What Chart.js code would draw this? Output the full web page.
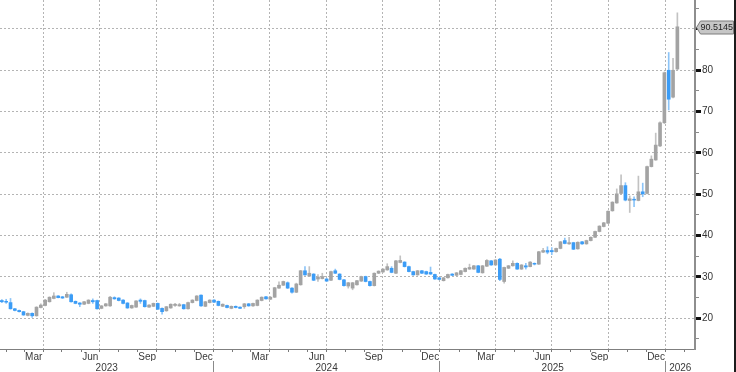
<!DOCTYPE html>
<html><head><meta charset="utf-8">
<style>html,body{margin:0;padding:0;background:#fff;overflow:hidden}#wrap{position:relative;width:736px;height:372px}</style>
<script src="https://cdn.jsdelivr.net/npm/chart.js@4.4.1/dist/chart.umd.min.js"></script>
</head><body><div id="wrap"><canvas id="c" width="736" height="372"></canvas></div>
<script>
// Weekly candles, first week centred on this date
const firstWeek = '2023-01-24';
const open = [24.3,24.1,23.8,22.3,21.9,21.6,20.7,21.2,20.6,22.6,23.1,24.0,24.8,25.4,25.2,25.1,25.7,24.1,23.7,23.4,
23.6,24.3,24.3,22.4,23.0,23.0,25.0,24.9,24.4,23.7,22.5,22.7,24.4,24.3,22.7,22.9,23.6,22.4,21.8,22.5,
23.1,23.0,23.3,22.3,23.8,24.3,25.6,22.9,23.8,24.4,24.1,22.9,23.1,22.4,22.9,22.7,22.8,23.5,23.0,23.1,
24.3,25.2,24.6,25.1,27.3,28.0,28.6,27.3,26.3,28.1,31.5,30.2,30.7,29.5,29.6,29.5,29.2,31.5,30.7,29.3,
27.8,27.3,28.1,29.0,30.1,28.9,27.9,30.9,31.2,31.7,32.1,30.9,33.5,33.6,32.5,31.3,30.5,31.5,31.3,31.1,
30.6,29.8,29.1,29.8,30.7,30.4,30.6,31.3,31.9,31.9,32.7,31.0,32.6,33.9,32.9,34.3,28.9,32.1,32.7,33.3,
31.9,32.7,32.5,33.3,33.1,36.0,36.4,36.4,36.1,36.9,38.8,38.0,38.3,36.8,38.5,38.0,38.8,39.6,41.0,42.2,
43.0,46.0,47.9,50.2,52.1,48.5,48.8,48.5,50.6,50.2,56.7,58.3,61.7,67.3,80.0,73.5,80.3];
const high = [24.5,24.6,24.8,22.4,22.0,21.7,21.3,21.3,22.8,23.5,24.6,25.2,26.2,25.5,25.3,26.3,25.9,24.2,23.8,24.1,
24.5,24.7,24.4,23.1,23.6,25.3,25.2,25.0,24.5,23.8,23.2,24.3,24.7,24.4,23.3,23.7,23.7,22.5,22.9,23.5,
23.6,23.6,23.4,23.9,24.5,25.5,25.7,24.1,24.5,24.5,24.2,23.5,23.2,23.0,23.0,22.8,23.6,23.6,23.7,24.5,
25.2,25.3,25.3,27.5,28.8,29.0,28.8,27.4,28.5,31.6,32.5,32.5,30.8,30.6,30.9,29.7,31.4,31.9,30.8,29.4,
28.7,28.7,29.2,30.2,30.2,29.0,31.0,31.5,32.0,33.2,32.5,34.0,35.1,33.7,32.6,31.4,31.6,31.6,31.4,32.4,
30.7,29.9,29.9,30.7,30.8,31.1,31.6,32.2,33.1,32.8,32.8,32.8,34.2,34.0,34.2,34.5,32.4,32.8,33.9,33.4,
33.0,33.3,33.7,33.4,36.2,36.9,37.3,37.1,37.0,38.6,39.4,39.6,38.4,38.5,38.6,38.9,39.7,41.1,42.4,43.2,
46.0,48.2,51.3,54.7,52.8,49.6,49.4,54.4,52.7,56.8,59.3,64.8,67.5,79.6,84.3,82.9,93.9];
const low = [23.8,23.6,22.2,21.8,21.5,20.7,20.6,20.2,20.5,22.5,23.0,23.9,24.7,24.9,24.8,25.0,23.9,23.5,22.8,23.3,
23.5,23.6,22.2,22.3,22.9,22.9,24.6,24.2,23.5,22.4,22.4,22.6,23.6,22.7,22.6,22.8,22.1,21.0,21.7,22.4,
22.9,22.9,22.2,22.2,23.7,24.2,22.9,22.8,23.7,23.8,23.0,22.8,22.5,22.3,22.5,22.3,22.4,22.9,22.9,23.0,
24.2,24.6,24.5,25.0,27.2,27.9,27.2,26.1,26.2,28.0,30.4,30.1,29.1,28.9,29.5,28.9,29.1,30.8,29.3,27.8,
27.3,26.9,28.0,28.9,28.8,27.8,27.8,30.8,31.1,31.6,31.0,30.8,33.4,32.4,31.2,30.4,30.4,30.8,30.6,30.6,
29.4,29.3,29.0,29.7,30.3,30.3,30.5,31.2,31.8,31.8,31.0,30.9,32.5,32.8,32.8,29.1,28.5,32.0,32.6,31.8,
31.8,31.9,32.4,32.9,33.0,35.9,35.6,35.4,36.0,36.8,38.0,37.9,36.6,36.7,37.9,37.9,38.7,39.5,40.9,42.1,
42.9,45.9,47.8,50.1,48.4,45.6,47.0,48.4,49.4,50.1,56.6,58.2,61.5,67.1,70.4,73.3,80.1];
const close = [24.0,23.9,22.3,21.9,21.6,20.8,21.2,20.6,22.7,23.2,24.4,25.1,25.4,25.0,24.9,25.8,24.0,23.6,23.4,24.0,
24.4,24.0,22.3,23.0,23.5,25.1,24.7,24.3,23.6,22.5,23.1,24.2,24.1,22.8,23.2,23.6,22.2,21.6,22.8,23.4,
23.4,23.3,22.3,23.8,24.4,25.4,23.0,24.0,24.4,23.9,23.1,23.4,22.6,22.9,22.6,22.4,23.5,23.0,23.6,24.4,
25.1,24.7,25.1,27.4,28.0,28.9,27.3,26.3,28.3,31.5,30.5,30.9,29.2,30.0,30.1,29.0,31.3,30.9,29.4,27.9,
28.6,28.6,29.1,30.1,28.9,27.9,30.9,31.4,31.9,32.5,31.1,33.9,34.0,32.5,31.3,30.5,31.5,30.9,30.7,30.7,
29.5,29.4,29.8,30.6,30.4,31.0,31.5,32.1,32.3,32.7,31.1,32.7,34.0,32.9,34.1,29.4,32.3,32.7,33.3,31.9,
32.9,32.4,33.6,33.1,36.1,36.4,36.0,36.1,36.9,38.5,38.1,38.3,36.7,38.4,38.0,38.8,39.6,41.0,42.3,43.1,
45.9,48.1,50.1,52.1,48.6,48.9,48.6,50.6,50.1,56.7,58.5,61.9,67.3,79.4,73.0,80.0,90.5145];
const monthNames = ['Mar','Jun','Sep','Dec'];
const yearNames = ['2023','2024','2025','2026'];
const yMajorStep = 10;
const lastPrice = close[close.length - 1];

const UP = '#a3a3a3', DOWN = '#3b9cf6', UP_W = '#c2c2c2', DOWN_W = '#8cc4f7';
const GRID = '#b4b4b4';
const base = Date.UTC(2023, 0, 1);
const dayOf = (y, m, d) => (Date.UTC(y, m, d) - base) / 864e5;
const startDay = (Date.parse(firstWeek + 'T00:00:00Z') - base) / 864e5;
const weekDays = open.map((_, i) => startDay + 7 * i);
const X_MIN = 20, X_MAX = 1143.5;

const monthBounds = [], monthMids = [], quarterSet = new Set();
for (let y = 2023; y <= 2026; y++) for (let m = 0; m < 12; m++) {
  const d = dayOf(y, m, 1);
  if (d < X_MIN || d > X_MAX) continue;
  monthBounds.push(d);
  if (m % 3 === 0) quarterSet.add(d);
}
for (let y = 2023; y <= 2025; y++) for (const m of [2, 5, 8, 11]) {
  monthMids.push((dayOf(y, m, 1) + dayOf(y, m + 1, 1)) / 2);
}
const yearBounds = [dayOf(2024,0,1), dayOf(2025,0,1), dayOf(2026,0,1)];
const yearMids = [(X_MIN + yearBounds[0]) / 2, (yearBounds[0] + yearBounds[1]) / 2, (yearBounds[1] + yearBounds[2]) / 2, (yearBounds[2] + X_MAX) / 2];

const isUp = i => close[i] >= open[i];

Chart.defaults.font.family = '"Liberation Sans", Arial, sans-serif';
Chart.defaults.font.size = 10;
Chart.defaults.color = '#333';

const zeroPad = s => { s.paddingTop = 0; s.paddingBottom = 0; s.paddingLeft = 0; s.paddingRight = 0; };
const setTicks = arr => (s) => { s.ticks = arr.map(v => ({ value: v })); };
const hiddenAxis = (h, extra) => Object.assign({
  type: 'linear', position: 'bottom', min: X_MIN, max: X_MAX, offset: false,
  grid: { display: false, drawTicks: false, offset: false },
  border: { display: false },
  afterFit: s => { s.height = h; zeroPad(s); }
}, extra);

const overlay = {
  id: 'overlay',
  afterDraw(chart) {
    const ctx = chart.ctx, ys = chart.scales.y;
    const y = Math.round(ys.getPixelForValue(lastPrice)) + 0.5;
    const x0 = ys.left + 1.5, x1 = x0 + 4, x2 = 733.5;
    ctx.save();
    ctx.beginPath();
    ctx.moveTo(x0, y); ctx.lineTo(x1, y - 6.5); ctx.lineTo(x2, y - 6.5);
    ctx.lineTo(x2, y + 6.5); ctx.lineTo(x1, y + 6.5); ctx.closePath();
    ctx.fillStyle = '#c6c6c6'; ctx.fill();
    ctx.strokeStyle = '#7c7c7c'; ctx.lineWidth = 1; ctx.stroke();
    ctx.fillStyle = '#1e1e1e';
    ctx.font = '9px "Liberation Sans", Arial, sans-serif';
    ctx.textBaseline = 'middle'; ctx.textAlign = 'left';
    ctx.fillText(lastPrice.toFixed(4), x1, y + 0.5);
    ctx.fillStyle = '#1c1c1c';
    ctx.fillRect(734, 0, 2, chart.height);
    ctx.restore();
  }
};

new Chart(document.getElementById('c'), {
  type: 'bar',
  data: {
    datasets: [
      {
        label: 'body', order: 0, xAxisID: 'x', yAxisID: 'y',
        data: open.map((o, i) => ({ x: weekDays[i], y: [o, close[i]] })),
        backgroundColor: c => isUp(c.dataIndex) ? UP : DOWN,
        barThickness: 3, grouped: false, borderWidth: 0
      },
      {
        label: 'range', order: 1, xAxisID: 'x', yAxisID: 'y',
        data: low.map((l, i) => ({ x: weekDays[i], y: [l, high[i]] })),
        backgroundColor: c => isUp(c.dataIndex) ? UP_W : DOWN_W,
        barThickness: 1, grouped: false, borderWidth: 0
      }
    ]
  },
  options: {
    responsive: false, animation: false, devicePixelRatio: 1,
    layout: { padding: 0 },
    plugins: { legend: { display: false }, tooltip: { enabled: false } },
    scales: {
      x: {
        type: 'linear', position: 'bottom', min: X_MIN, max: X_MAX, offset: false,
        afterBuildTicks: setTicks(monthBounds),
        ticks: { display: false, autoSkip: false },
        grid: {
          offset: false, drawTicks: true, tickLength: 3, lineWidth: 1,
          color: c => (c.tick && quarterSet.has(c.tick.value)) ? GRID : 'rgba(0,0,0,0)',
          tickColor: '#7a7a7a'
        },
        border: { display: true, color: '#7f7f7f', width: 1, dash: [2, 2] },
        afterFit: s => { s.height = 0; zeroPad(s); }
      },
      xm: hiddenAxis(12, {
        afterBuildTicks: setTicks(monthMids),
        ticks: { autoSkip: false, maxRotation: 0, padding: 2, color: '#3a3a3a',
          callback: (v, i) => monthNames[i % 4] }
      }),
      xs: hiddenAxis(0, {
        afterBuildTicks: setTicks(yearBounds),
        ticks: { display: false },
        grid: { display: true, drawOnChartArea: false, drawTicks: true, tickLength: 11,
          color: 'rgba(0,0,0,0)', tickColor: '#8a8a8a', offset: false }
      }),
      xy: hiddenAxis(11, {
        afterBuildTicks: setTicks(yearMids),
        ticks: { autoSkip: false, maxRotation: 0, padding: 1, color: '#3a3a3a',
          callback: (v, i) => yearNames[i] }
      }),
      y: {
        type: 'linear', position: 'right', min: 12.57, max: 97.0,
        afterBuildTicks: s => {
          const t = [];
          for (let v = 15; v <= 95; v += yMajorStep / 2) t.push({ value: v });
          s.ticks = t;
        },
        afterFit: s => { s.width = 41; zeroPad(s); },
        ticks: { autoSkip: false, padding: 1, color: '#333',
          callback: v => (v % yMajorStep === 0 ? String(v) : '') },
        grid: {
          drawTicks: true, tickLength: 6,
          color: c => (c.tick && c.tick.value % yMajorStep === 0) ? GRID : 'rgba(0,0,0,0)',
          tickColor: c => (c.tick && c.tick.value % yMajorStep === 0) ? '#111' : '#8a8a8a',
          tickWidth: c => (c.tick && c.tick.value % yMajorStep === 0) ? 3 : 1,
          tickBorderDash: c => (c.tick && c.tick.value % yMajorStep === 0) ? [] : [3, 20]
        },
        border: { display: true, color: '#8e8e8e', width: 2, dash: [2, 2] }
      }
    }
  },
  plugins: [overlay]
});
</script></body></html>
